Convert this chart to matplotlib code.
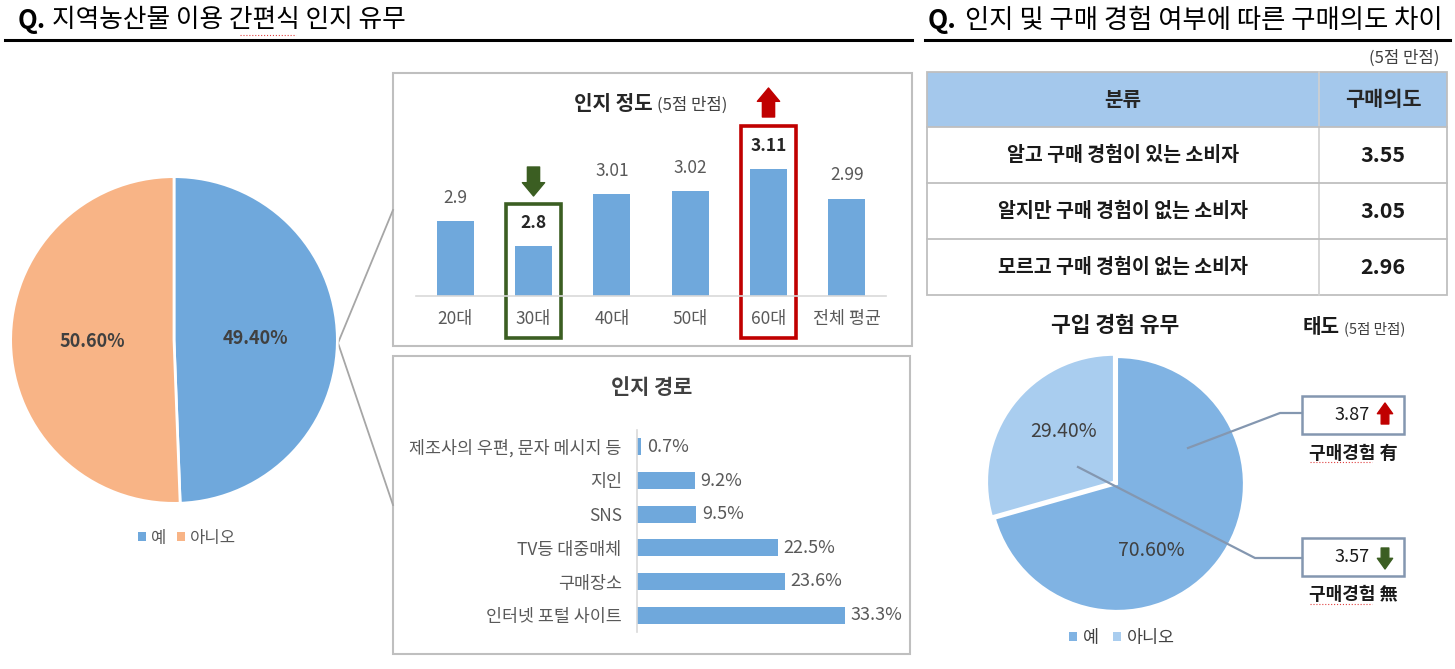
import numpy as np
import matplotlib.pyplot as plt
from matplotlib.patches import Rectangle, Patch

plt.rcParams['font.family'] = ['Noto Sans CJK KR', 'DejaVu Sans']

W, H = 1455, 669

# 인지 유무 (left pie)
aware_labels = ['예', '아니오']
aware_share = [49.4, 50.6]

# 인지 정도 by age
age_groups = ['20대', '30대', '40대', '50대', '60대', '전체 평균']
aware_score = [2.9, 2.8, 3.01, 3.02, 3.11, 2.99]

# 인지 경로
route_labels = ['제조사의 우편, 문자 메시지 등', '지인', 'SNS', 'TV등 대중매체', '구매장소', '인터넷 포털 사이트']
route_share = [0.7, 9.2, 9.5, 22.5, 23.6, 33.3]

# 구매의도 table
table_groups = ['알고 구매 경험이 있는 소비자', '알지만 구매 경험이 없는 소비자', '모르고 구매 경험이 없는 소비자']
table_intent = [3.55, 3.05, 2.96]

# 구입 경험 유무 (right pie) and attitude
buy_labels = ['예', '아니오']
buy_share = [70.6, 29.4]
attitude_labels = ['구매경험 有', '구매경험 無']
attitude_score = [3.87, 3.57]

blue = '#6FA8DC'
orange = '#F8B486'
grey_txt = '#595959'
dark_txt = '#404040'
green = '#3B5E22'
red = '#C00000'

fig = plt.figure(figsize=(W / 100, H / 100), dpi=100)


def px_axes(x0, y0, x1, y1):
    return fig.add_axes([x0 / W, 1 - y1 / H, (x1 - x0) / W, (y1 - y0) / H])


def overlay():
    a = px_axes(0, 0, W, H)
    a.set_xlim(0, W)
    a.set_ylim(H, 0)
    a.axis('off')
    return a


# overlay in pixel coordinates for frames, titles and connectors
ov = overlay()

# section titles
ov.text(18, 20, 'Q.', fontsize=18.5, weight='bold', va='center', ha='left')
ov.text(52, 20, '지역농산물 이용 간편식 인지 유무', fontsize=18.5, va='center', ha='left')
ov.plot([5, 912], [40, 40], color='black', lw=2.2)
ov.plot([240, 296], [35, 35], color='#E04040', lw=0.8, ls=':')

ov.text(928, 21, 'Q.', fontsize=19, weight='bold', va='center', ha='left')
ov.text(965, 21, '인지 및 구매 경험 여부에 따른 구매의도 차이', fontsize=19, va='center', ha='left')
ov.plot([925, 1450], [40, 40], color='black', lw=2.2)
ov.text(1439, 58, '(5점 만점)', fontsize=12, color=dark_txt, va='center', ha='right')

# frames of the two small charts and the zoom connectors
ov.add_patch(Rectangle((393, 73), 519, 273, fill=False, ec='#BFBFBF', lw=1.5))
ov.add_patch(Rectangle((393, 356), 517, 298, fill=False, ec='#BFBFBF', lw=1.5))
ov.plot([393, 338, 393], [210, 343, 505], color='#A6A6A6', lw=1.3)

# ---- left pie ----
axp = px_axes(9, 175, 339, 505)
wedges, _, autot = axp.pie(aware_share, colors=[blue, orange], startangle=90,
                           counterclock=False, autopct='%.2f%%', pctdistance=0.5,
                           wedgeprops=dict(edgecolor='white', linewidth=2),
                           textprops=dict(fontsize=13, color=dark_txt, weight='bold'))
axp.set_xlim(-1.01, 1.01)
axp.set_ylim(-1.01, 1.01)
axp.set_aspect('equal')
handles = [Patch(facecolor=c) for c in [blue, orange]]
axp.legend(handles, aware_labels, loc='center', bbox_to_anchor=(187 / W, 1 - 538 / H),
           bbox_transform=fig.transFigure, ncol=2, frameon=False, fontsize=12,
           handlelength=0.5, handleheight=0.5, handletextpad=0.3, columnspacing=0.6,
           labelcolor=grey_txt)

# ---- 인지 정도 bars ----
ax1 = px_axes(416, 71, 886, 296)
ax1.patch.set_alpha(0)
x = np.arange(len(age_groups))
ax1.bar(x, aware_score, width=0.47, color=blue)
ax1.set_xlim(-0.5, 5.5)
ax1.set_ylim(2.6, 3.5)
for s in ['top', 'right', 'left']:
    ax1.spines[s].set_visible(False)
ax1.spines['bottom'].set_color('#D9D9D9')
ax1.spines['bottom'].set_linewidth(1.2)
ax1.set_yticks([])
ax1.set_xticks(x, age_groups, fontsize=12.5, color=grey_txt)
ax1.tick_params(axis='x', length=0, pad=10)
low_i, high_i = 1, 4
for i, v in enumerate(aware_score):
    bold = i in (low_i, high_i)
    ax1.text(i, v + 0.092, f'{v:g}', ha='center', va='center', fontsize=12.5,
             color='#262626' if bold else grey_txt, weight='bold' if bold else 'normal')
for i, col in [(low_i, green), (high_i, red)]:
    v = aware_score[i]
    ax1.add_patch(Rectangle((i - 0.35, 2.432), 0.7, v + 0.17 - 2.432, fill=False,
                            ec=col, lw=2.6, clip_on=False))
arrow = 'simple,head_length=0.6,head_width=1.0,tail_width=0.55'
v = aware_score[low_i]
ax1.annotate('', xy=(low_i, v + 0.2), xytext=(low_i, v + 0.316), annotation_clip=False,
             arrowprops=dict(arrowstyle=arrow, mutation_scale=16, color=green,
                             shrinkA=0, shrinkB=0))
v = aware_score[high_i]
ax1.annotate('', xy=(high_i, v + 0.322), xytext=(high_i, v + 0.206), annotation_clip=False,
             arrowprops=dict(arrowstyle=arrow, mutation_scale=16, color=red,
                             shrinkA=0, shrinkB=0))
ov.text(653, 110, '인지 정도', fontsize=14.5, weight='bold', color='#262626', ha='right', va='baseline')
ov.text(657, 110, '(5점 만점)', fontsize=12, color=dark_txt, ha='left', va='baseline')

# ---- 인지 경로 bars ----
ax2 = px_axes(637, 430, 887, 632)
ax2.patch.set_alpha(0)
y = np.arange(len(route_labels))
ax2.barh(y, route_share, height=0.5, color=blue)
ax2.set_xlim(0, 40)
ax2.set_ylim(5.5, -0.5)
for s in ['top', 'right', 'bottom']:
    ax2.spines[s].set_visible(False)
ax2.spines['left'].set_color('#D9D9D9')
ax2.spines['left'].set_linewidth(1.2)
ax2.set_xticks([])
ax2.set_yticks(y, route_labels, fontsize=12.5, color=grey_txt)
ax2.tick_params(axis='y', length=0, pad=11)
for i, v in enumerate(route_share):
    ax2.annotate(f'{v}%', xy=(v, i), xytext=(4, 0), textcoords='offset points',
                 ha='left', va='center', fontsize=13, color=grey_txt)
ov.text(652, 387, '인지 경로', fontsize=15, weight='bold', color=dark_txt, ha='center', va='center')

# ---- 구매의도 table ----
tx0, tx1, tdiv = 927, 1447, 1319
ty0, thead, trow = 72, 127, 56
ov.add_patch(Rectangle((tx0, ty0), tx1 - tx0, thead - ty0, fc='#A4C8EC', ec='none'))
ybot = thead + trow * len(table_groups)
ov.add_patch(Rectangle((tx0, ty0), tx1 - tx0, ybot - ty0, fill=False, ec='#BFBFBF', lw=1.3))
ov.plot([tdiv, tdiv], [ty0, ybot], color='#D0D0D0', lw=1.2)
ov.text((tx0 + tdiv) / 2, 99, '분류', fontsize=14.5, weight='bold', color='#262626', ha='center', va='center')
ov.text((tdiv + tx1) / 2, 99, '구매의도', fontsize=15, weight='bold', color='#262626', ha='center', va='center')
for i, (g, v) in enumerate(zip(table_groups, table_intent)):
    yc = thead + trow * (i + 0.5)
    if i > 0:
        ov.plot([tx0, tx1], [thead + trow * i] * 2, color='#BFBFBF', lw=1.3)
    ov.text((tx0 + tdiv) / 2, yc, g, fontsize=14, weight='bold', color='#1a1a1a', ha='center', va='center')
    ov.text((tdiv + tx1) / 2, yc, f'{v:.2f}', fontsize=15.5, weight='bold', color='#1a1a1a', ha='center', va='center')
ov.plot([tx0, tx1], [thead, thead], color='#BFBFBF', lw=1.3)

# ---- right pie ----
c_yes, c_no = '#80B3E3', '#A9CDEF'
axq = px_axes(985, 352, 1249, 616)
wq, _, autoq = axq.pie(buy_share, colors=[c_yes, c_no], startangle=90, counterclock=False,
                       explode=(0, 0.03), autopct='%.2f%%', pctdistance=0.55,
                       wedgeprops=dict(edgecolor='white', linewidth=1.5),
                       textprops=dict(fontsize=14, color=dark_txt))
autoq[0].set_position((0.27, -0.52))
autoq[1].set_position((-0.42, 0.41))
axq.set_xlim(-1.04, 1.04)
axq.set_ylim(-1.04, 1.04)
axq.set_aspect('equal')
handles = [Patch(facecolor=c) for c in [c_yes, c_no]]
axq.legend(handles, buy_labels, loc='center', bbox_to_anchor=(1122 / W, 1 - 638 / H),
           bbox_transform=fig.transFigure, ncol=2, frameon=False, fontsize=12.5,
           handlelength=0.45, handleheight=0.45, handletextpad=0.35, columnspacing=0.8,
           labelcolor=dark_txt)
ov.text(1115, 325, '구입 경험 유무', fontsize=15.5, weight='bold', color='#1a1a1a', ha='center', va='center')
ov.text(1340, 333, '태도', fontsize=14.5, weight='bold', color='#1a1a1a', ha='right', va='baseline')
ov.text(1344, 333, '(5점 만점)', fontsize=10.5, color=dark_txt, ha='left', va='baseline')

# attitude call-outs, drawn above the pie
top = overlay()
conn = '#8497B0'
top.plot([1188, 1280, 1302], [448, 413, 413], color=conn, lw=1.6)
top.plot([1078, 1255, 1302], [467, 558, 558], color=conn, lw=1.6)
box_tops = [396, 538]
for i, (lab, v) in enumerate(zip(attitude_labels, attitude_score)):
    yt = box_tops[i]
    yc = yt + 19
    top.add_patch(Rectangle((1302, yt), 102, 38, fc='white', ec=conn, lw=1.8))
    top.text(1370, yc, f'{v:.2f}', fontsize=13, color='#1a1a1a', ha='right', va='center')
    if v == max(attitude_score):
        top.annotate('', xy=(1385, yc - 12), xytext=(1385, yc + 9),
                     arrowprops=dict(arrowstyle='simple,head_length=0.7,head_width=1.0,tail_width=0.5',
                                     mutation_scale=11, color=red, shrinkA=0, shrinkB=0))
    else:
        top.annotate('', xy=(1385, yc + 12), xytext=(1385, yc - 9),
                     arrowprops=dict(arrowstyle='simple,head_length=0.7,head_width=1.0,tail_width=0.5',
                                     mutation_scale=11, color=green, shrinkA=0, shrinkB=0))
    top.text(1353, yt + 57, lab, fontsize=13, weight='bold', color='#1a1a1a', ha='center', va='center')
    top.plot([1310, 1372], [yt + 66, yt + 66], color='#E04040', lw=0.8, ls=':')

fig.savefig('out.png', dpi=100, facecolor='white')
